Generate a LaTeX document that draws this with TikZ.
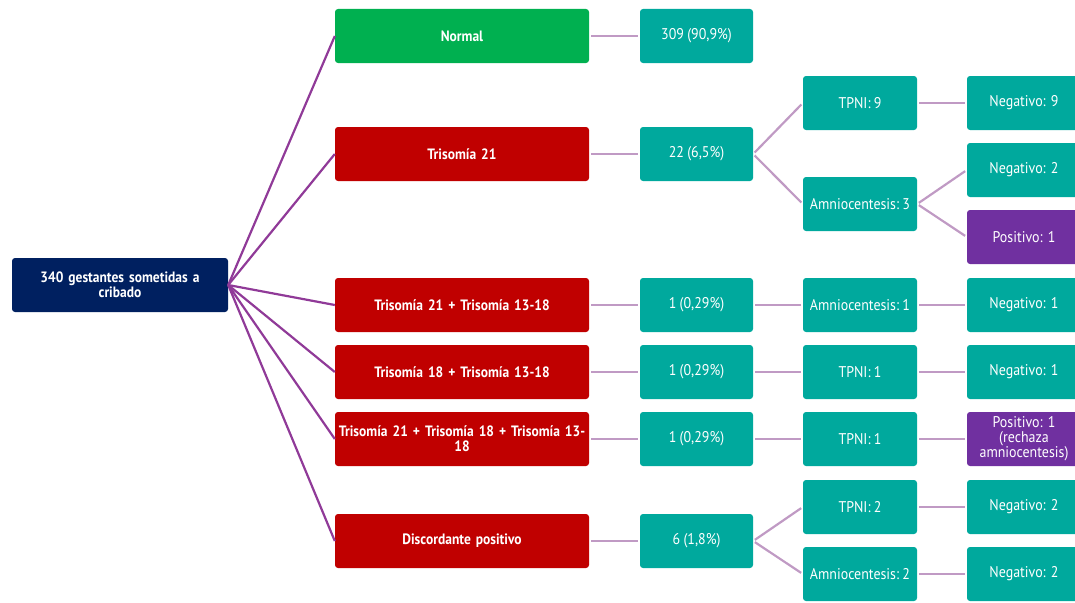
\documentclass[tikz,border=0pt]{standalone}
\usepackage{fontspec}
\setmainfont{PT Sans}[FakeStretch=0.9, WordSpace=0.9]
\usepackage{xcolor}
\usetikzlibrary{positioning}
\definecolor{NavyBox}{HTML}{002060}
\definecolor{GreenBox}{HTML}{00B050}
\definecolor{RedBox}{HTML}{C00000}
\definecolor{TealBox}{HTML}{00A99D}
\definecolor{PurpleBox}{HTML}{7030A0}
\definecolor{RootLine}{HTML}{903A98}
\definecolor{LeafLine}{HTML}{C09AC4}

\begin{document}
\frenchspacing
\begin{tikzpicture}[x=1pt, y=-1pt,
                    every node/.style={rounded corners=3pt, align=center, text=white,
                                       minimum height=54pt, inner sep=1pt,
                                       font=\frenchspacing\fontsize{15.5}{15}\selectfont},
                    rootbox/.style={fill=NavyBox, minimum width=216pt, text width=210pt,
                                    font=\frenchspacing\bfseries\fontsize{15}{15}\selectfont},
                    groupbox/.style={fill=#1, minimum width=254pt, text width=252pt,
                                     font=\frenchspacing\bfseries\fontsize{15}{15}\selectfont},
                    countbox/.style={fill=TealBox, minimum width=113pt},
                    testbox/.style={fill=TealBox, minimum width=114pt},
                    resultbox/.style={fill=#1, minimum width=114pt, text width=110pt},
                    rootedge/.style={draw=RootLine, line width=2.2pt},
                    leafedge/.style={draw=LeafLine, line width=2.2pt, shorten <=2pt, shorten >=2pt}]
\useasboundingbox (0,0) rectangle (1075,602);
\clip (0,0) rectangle (1075,602);
% root
\node[rootbox] (root) at (120,285) {340 gestantes sometidas a\\cribado};
% screening groups
\node[groupbox=GreenBox] (normal)  at (462,36)  {Normal};
\node[groupbox=RedBox]   (tri21)   at (462,154) {Trisomía 21};
\node[groupbox=RedBox]   (tri2113) at (462,305) {Trisomía 21 + Trisomía 13-18};
\node[groupbox=RedBox]   (tri1813) at (462,372) {Trisomía 18 + Trisomía 13-18};
\node[groupbox=RedBox]   (triall)  at (462,439) {Trisomía 21 + Trisomía 18 + Trisomía 13-\\18};
\node[groupbox=RedBox]   (discord) at (462,541) {Discordante positivo};
% counts
\node[countbox] (cnormal)  at (696.5,36)  {309 (90,9\%)};
\node[countbox] (ctri21)   at (696.5,154) {22 (6,5\%)};
\node[countbox] (ctri2113) at (696.5,305) {1 (0,29\%)};
\node[countbox] (ctri1813) at (696.5,372) {1 (0,29\%)};
\node[countbox] (ctriall)  at (696.5,439) {1 (0,29\%)};
\node[countbox] (cdiscord) at (696.5,541) {6 (1,8\%)};
% tests
\node[testbox] (tpni9)   at (860,103) {TPNI: 9};
\node[testbox] (amnio3)  at (860,204) {Amniocentesis: 3};
\node[testbox] (amnio1)  at (860,305) {Amniocentesis: 1};
\node[testbox] (tpni1a)  at (860,372) {TPNI: 1};
\node[testbox] (tpni1b)  at (860,439) {TPNI: 1};
\node[testbox] (tpni2)   at (860,507) {TPNI: 2};
\node[testbox] (amnio2)  at (860,574) {Amniocentesis: 2};
% results
\node[resultbox=TealBox]   (neg9)  at (1024,103) {Negativo: 9};
\node[resultbox=TealBox]   (neg2a) at (1024,170) {Negativo: 2};
\node[resultbox=PurpleBox] (pos1a) at (1024,237) {Positivo: 1};
\node[resultbox=TealBox]   (neg1a) at (1024,305) {Negativo: 1};
\node[resultbox=TealBox]   (neg1b) at (1024,372) {Negativo: 1};
\node[resultbox=PurpleBox] (pos1b) at (1024,439) {Positivo: 1\\(rechaza\\amniocentesis)};
\node[resultbox=TealBox]   (neg2b) at (1024,507) {Negativo: 2};
\node[resultbox=TealBox]   (neg2c) at (1024,574) {Negativo: 2};
% connectors
\foreach \g in {normal,tri21,tri2113,tri1813,triall,discord}
  \draw[rootedge] (root.east) -- (\g.west);
\foreach \g in {normal,tri21,tri2113,tri1813,triall,discord}
  \draw[leafedge] (\g.east) -- (c\g.west);
\draw[leafedge] (ctri21.east) -- (tpni9.west);
\draw[leafedge] (ctri21.east) -- (amnio3.west);
\draw[leafedge] (ctri2113.east) -- (amnio1.west);
\draw[leafedge] (ctri1813.east) -- (tpni1a.west);
\draw[leafedge] (ctriall.east) -- (tpni1b.west);
\draw[leafedge] (cdiscord.east) -- (tpni2.west);
\draw[leafedge] (cdiscord.east) -- (amnio2.west);
\draw[leafedge] (tpni9.east) -- (neg9.west);
\draw[leafedge] (amnio3.east) -- (neg2a.west);
\draw[leafedge] (amnio3.east) -- (pos1a.west);
\draw[leafedge] (amnio1.east) -- (neg1a.west);
\draw[leafedge] (tpni1a.east) -- (neg1b.west);
\draw[leafedge] (tpni1b.east) -- (pos1b.west);
\draw[leafedge] (tpni2.east) -- (neg2b.west);
\draw[leafedge] (amnio2.east) -- (neg2c.west);
\end{tikzpicture}
\end{document}
